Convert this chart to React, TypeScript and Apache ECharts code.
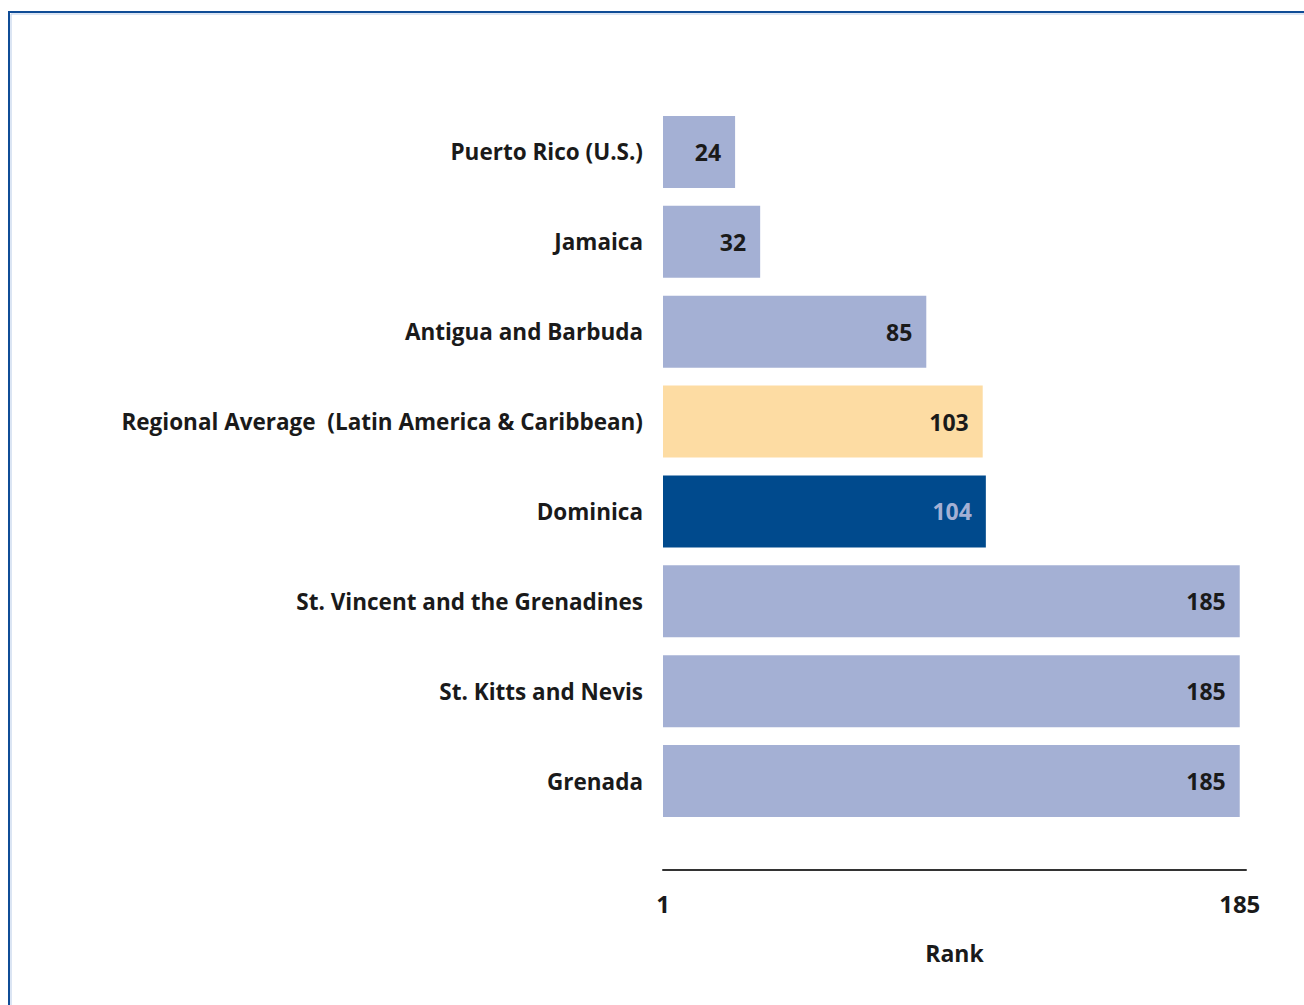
import React, { useEffect, useRef } from "react";
import * as echarts from "echarts";

const categories = [
  "Puerto Rico (U.S.)",
  "Jamaica",
  "Antigua and Barbuda",
  "Regional Average  (Latin America & Caribbean)",
  "Dominica",
  "St. Vincent and the Grenadines",
  "St. Kitts and Nevis",
  "Grenada",
];
const ranks = [24, 32, 85, 103, 104, 185, 185, 185];
const tickValues = [1, 185];
const axisTitle = "Rank";

const BASE = "#a4b0d4";
const REGION = "#fddca3";
const FOCUS = "#004a8d";

export default function App() {
  const ref = useRef<HTMLDivElement>(null);
  useEffect(() => {
    const chart = echarts.init(ref.current!, null, { renderer: "svg" });
    const font = "'Open Sans', Lato, sans-serif";
    chart.setOption({
      animation: false,
      backgroundColor: "#ffffff",
      textStyle: { fontFamily: font },
      graphic: [
        {
          type: "rect",
          shape: { x: 9, y: 12, width: 1400, height: 1100 },
          style: { fill: "none", stroke: "#0f4c96", lineWidth: 2 },
          silent: true,
        },
        {
          type: "rect",
          shape: { x: 11, y: 14, width: 1400, height: 1100 },
          style: { fill: "none", stroke: "#b7cbe8", lineWidth: 1 },
          silent: true,
        },
      ],
      grid: { left: 663, top: 107, width: 583, height: 719 },
      xAxis: {
        type: "value",
        min: 1,
        max: 187,
        offset: 44,
        splitLine: { show: false },
        axisTick: { show: false },
        axisLine: { show: true, lineStyle: { color: "#333333", width: 2 } },
        axisLabel: {
          customValues: tickValues,
          margin: 21,
          fontSize: 24,
          fontWeight: "bold",
          color: "#1a1a1a",
          fontFamily: font,
        },
        name: axisTitle,
        nameLocation: "middle",
        nameGap: 71,
        nameTextStyle: { fontSize: 23, fontWeight: "bold", color: "#1a1a1a", fontFamily: font },
      },
      yAxis: {
        type: "category",
        data: categories,
        inverse: true,
        axisLine: { show: false },
        axisTick: { show: false },
        axisLabel: {
          margin: 20,
          fontSize: 22.5,
          fontWeight: "bold",
          color: "#1a1a1a",
          fontFamily: font,
        },
      },
      series: [
        {
          type: "bar",
          barCategoryGap: "20%",
          data: ranks.map((v, i) => ({
            value: v,
            itemStyle: { color: i === 4 ? FOCUS : i === 3 ? REGION : BASE },
            label: {
              show: true,
              position: "insideRight",
              distance: 14,
              fontSize: 23,
              fontWeight: "bold",
              fontFamily: font,
              color: i === 4 ? "#a4b0d4" : "#1a1a1a",
            },
          })),
        },
      ],
    });
    return () => chart.dispose();
  }, []);
  return (
    <div
      ref={ref}
      style={{ position: "absolute", left: 0, top: 0, width: 1304, height: 1005 }}
    />
  );
}
